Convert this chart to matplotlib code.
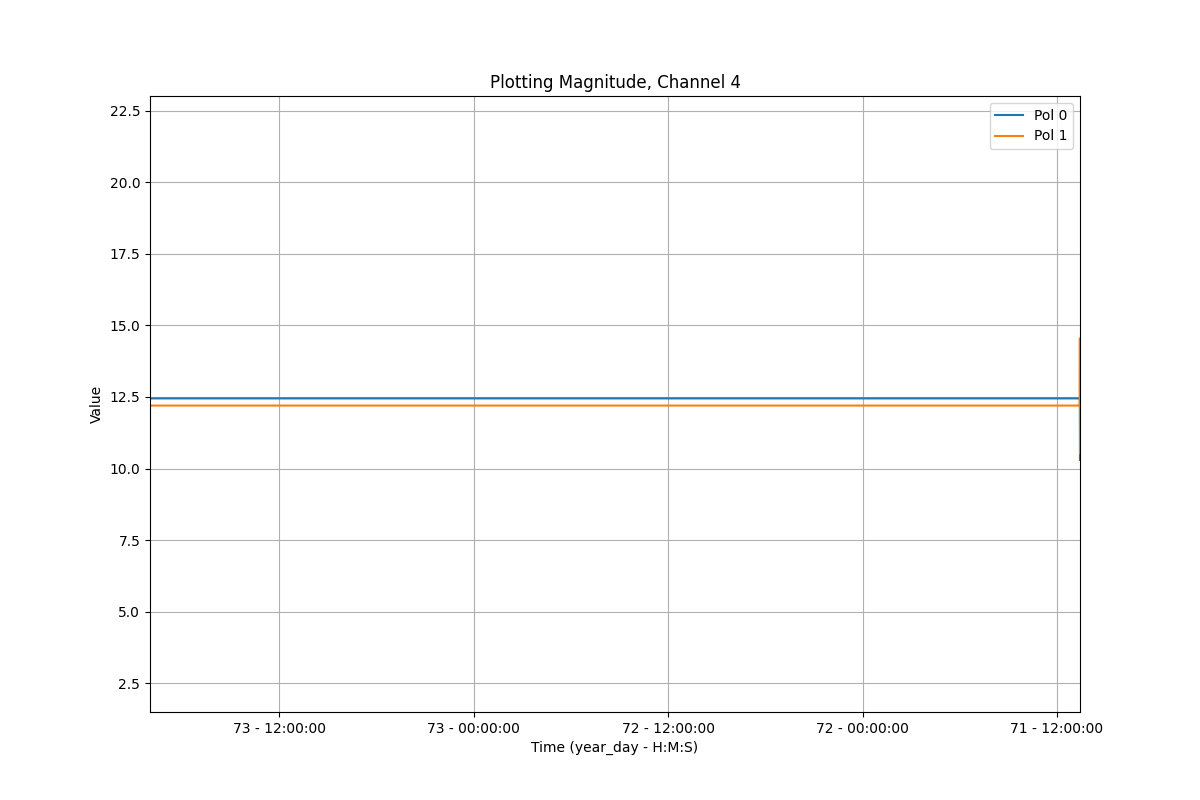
import datetime as dt
import matplotlib
matplotlib.use("Agg")
import matplotlib.pyplot as plt
import matplotlib.dates as mdates
from matplotlib.ticker import FuncFormatter

# sample times (newest first), year 2023 -> day 71 = Mar 12
times = ["2023-03-14 19:58:00", "2023-03-14 12:00:00", "2023-03-14 00:00:00",
         "2023-03-13 12:00:00", "2023-03-13 00:00:00", "2023-03-12 12:00:00",
         "2023-03-12 10:36:00", "2023-03-12 10:35:30", "2023-03-12 10:35:00"]
pol0 = [12.45, 12.45, 12.45, 12.45, 12.45, 12.45, 12.45, 12.45, 10.3]
pol1 = [12.2, 12.2, 12.2, 12.2, 12.2, 12.2, 12.2, 14.55, 10.55]

t = [dt.datetime.strptime(s, "%Y-%m-%d %H:%M:%S") for s in times]


def day_fmt(x, pos):
    d = mdates.num2date(x)
    return "%d - %s" % (int(d.strftime("%j")), d.strftime("%H:%M:%S"))


fig = plt.figure(figsize=(12, 8), dpi=100)
ax = fig.add_subplot(111)
ax.plot(t, pol0, label="Pol 0")
ax.plot(t, pol1, label="Pol 1")
ax.set_xlim(t[0], t[-1])
ax.set_ylim(1.49, 23.02)
ax.xaxis.set_major_locator(mdates.HourLocator(byhour=[0, 12]))
ax.xaxis.set_major_formatter(FuncFormatter(day_fmt))
ax.set_title("Plotting Magnitude, Channel 4")
ax.set_xlabel("Time (year_day - H:M:S)")
ax.set_ylabel("Value")
ax.grid(True)
ax.legend(loc="upper right")
fig.savefig("out.png")
